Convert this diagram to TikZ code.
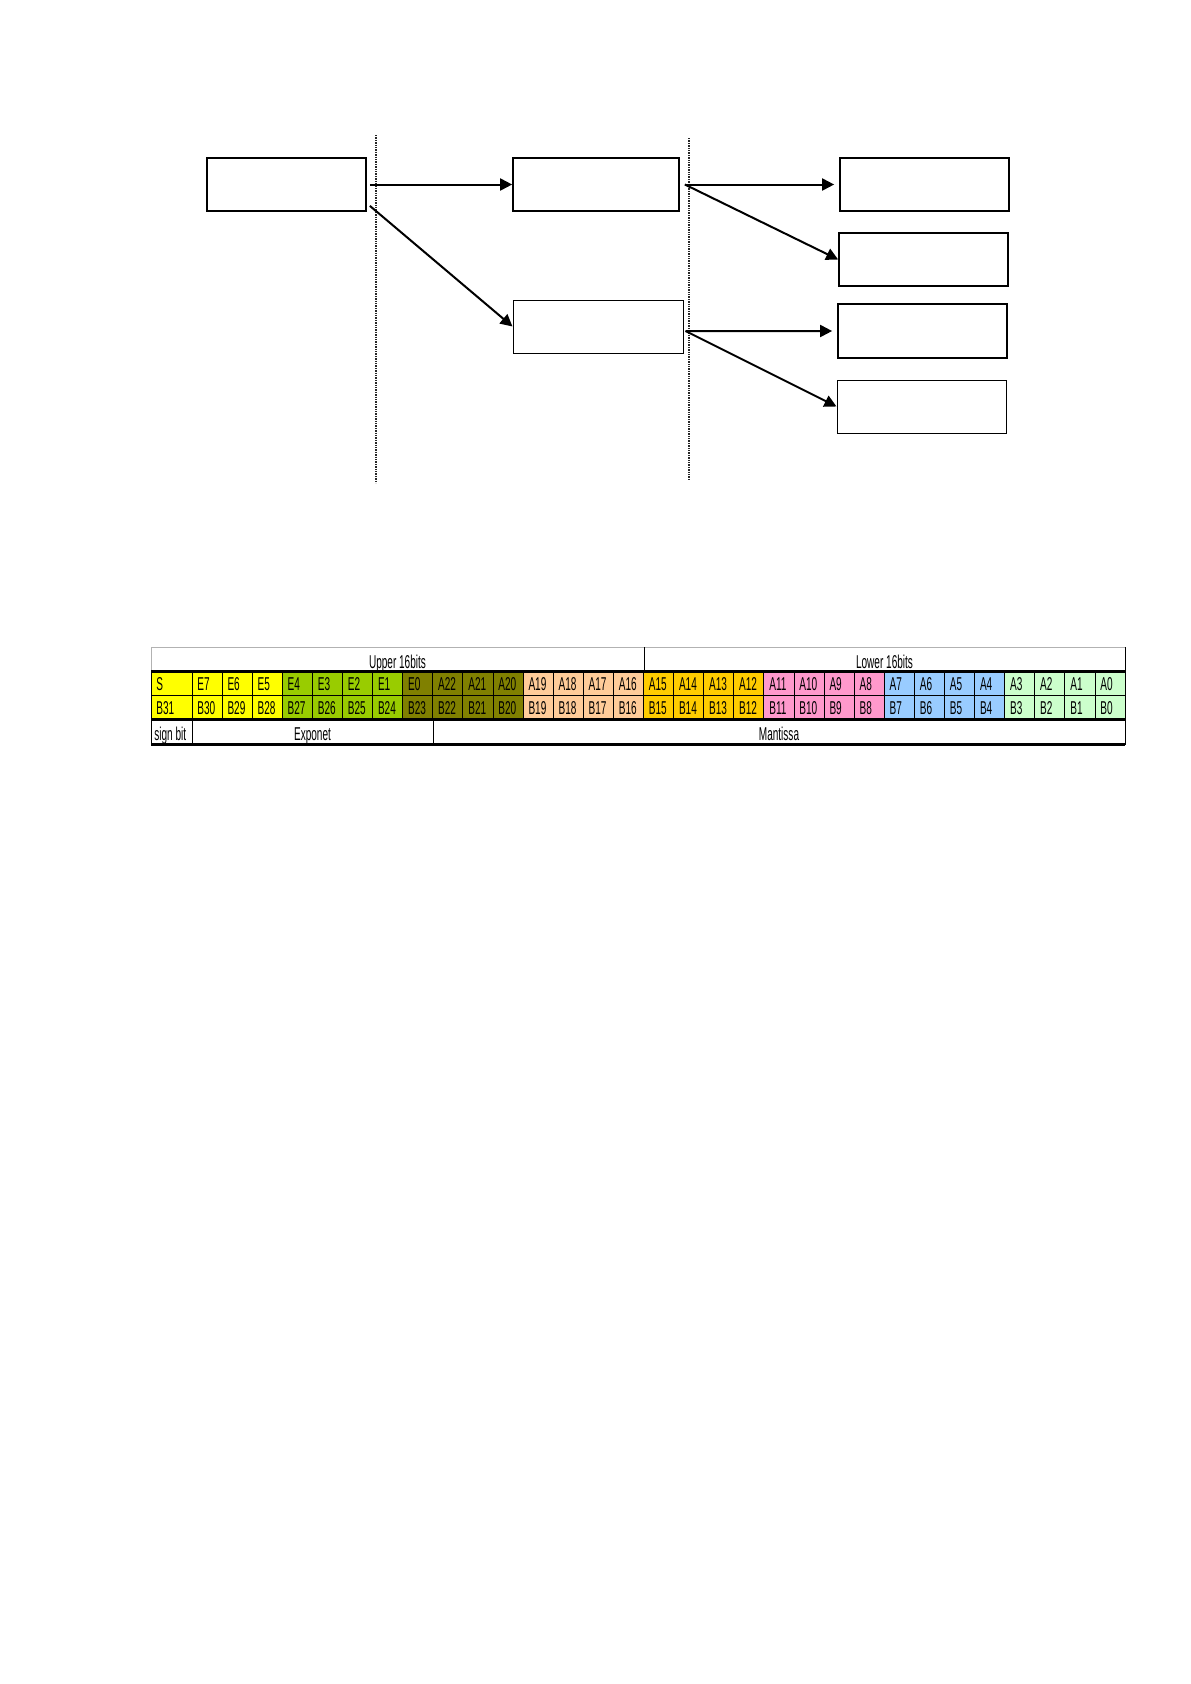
\documentclass[tikz,border=0pt]{standalone}
\usepackage{fontspec}
\usepackage{tikz}
\usetikzlibrary{arrows.meta}
\newfontfamily\cellfont[FakeStretch=0.54]{Liberation Sans}
\definecolor{bit-0}{HTML}{FFFF00}
\definecolor{bit-1}{HTML}{99CC00}
\definecolor{bit-2}{HTML}{808000}
\definecolor{bit-3}{HTML}{FFCC99}
\definecolor{bit-4}{HTML}{FFCC00}
\definecolor{bit-5}{HTML}{FF99CC}
\definecolor{bit-6}{HTML}{99CCFF}
\definecolor{bit-7}{HTML}{CCFFCC}
\tikzset{
    flow-box/.style = {draw, line width=0.85bp, rectangle, minimum width=84.5bp, minimum height=26.5bp, inner sep=0pt},
    thin-box/.style = {flow-box, line width=0.5bp},
    flow-arrow/.style = {-{Triangle[length=6bp,width=6bp]}, line width=1bp},
    divider/.style = {dash pattern=on 0.7bp off 0.5bp, line width=0.7bp, black!85},
    cell-text/.style = {font=\cellfont\fontsize{9.3bp}{10bp}\selectfont, inner sep=0pt},
    cell-line/.style = {line width=0.5bp},
    thick-rule/.style = {line width=1.5bp},
}

\begin{document}
\begin{tikzpicture}[x=0.5bp, y=-0.5bp]
\useasboundingbox (0,0) rectangle (1191,1684);

\node[flow-box, minimum width=79.5bp] (src) at (286.5,184.5) {};
\node[flow-box, minimum width=83bp] (upper) at (596,184.5) {};
\node[thin-box, minimum width=85bp] (lower) at (598,326.5) {};
\node[flow-box] (out-a) at (924.5,184.5) {};
\node[flow-box] (out-b) at (923.5,259.5) {};
\node[flow-box, minimum height=27bp] (out-c) at (922.5,331) {};
\node[thin-box] (out-d) at (921.5,406.5) {};

\draw[divider] (376,135) -- (376,483);
\draw[divider] (689,138) -- (689,481);

\draw[flow-arrow] ([xshift=1.5bp]src.east) -- (upper.west);
\draw[flow-arrow] ([xshift=1.5bp,yshift=3bp]src.south east) -- (lower.west);
\draw[flow-arrow, shorten >=2.5bp] ([xshift=2.5bp]upper.east) -- (out-a.west);
\draw[flow-arrow] ([xshift=2.5bp]upper.east) -- (out-b.west);
\draw[flow-arrow, shorten >=2.5bp] ([xshift=1bp,yshift=-2.25bp]lower.east) -- (out-c.west);
\draw[flow-arrow] ([xshift=1bp,yshift=-2.25bp]lower.east) -- (out-d.west);

\foreach \i in {0,...,31} {
    \pgfmathsetmacro{\xl}{\i==0 ? 151 : 192+(\i-1)*30.1}
    \pgfmathsetmacro{\xr}{192+\i*30.1}
    \pgfmathtruncatemacro{\grp}{\i/4}
    \pgfmathtruncatemacro{\bitno}{31-\i}
    \pgfmathtruncatemacro{\expno}{8-\i}
    \ifnum\i=0 \def\toplbl{S}\else\ifnum\i<9 \edef\toplbl{E\expno}\else\edef\toplbl{A\bitno}\fi\fi
    \filldraw[cell-line, fill=bit-\grp] (\xl,671) rectangle (\xr,719);
    \draw[cell-line] (\xl,695) -- (\xr,695);
    \node[cell-text, anchor=base west] (hi-\i) at (\xl+5,690) {\toplbl};
    \node[cell-text, anchor=base west] (lo-\i) at (\xl+5,714) {B\bitno};
}

\draw[cell-line, gray!60] (151,671) -- (151,647) -- (1125,647);
\draw[cell-line] (1125,647) -- (1125,671);
\draw[cell-line] (644,647) -- (644,671);
\draw[cell-line] (151,719) rectangle (1125,744);
\draw[cell-line] (192,719) -- (192,744);
\draw[cell-line] (433,719) -- (433,744);
\draw[thick-rule] (151,671) -- (1125,671);
\draw[thick-rule] (151,719) -- (1125,719);
\draw[thick-rule] (151,744) -- (1125,744);

\node[cell-text, anchor=base] (upper-half) at (397.5,668) {Upper 16bits};
\node[cell-text, anchor=base] (lower-half) at (884.5,668) {Lower 16bits};
\node[cell-text, anchor=base west] (sign) at (154,740) {sign bit};
\node[cell-text, anchor=base] (exponent) at (312.5,740) {Exponet};
\node[cell-text, anchor=base] (mantissa) at (779,740) {Mantissa};
\end{tikzpicture}
\end{document}
